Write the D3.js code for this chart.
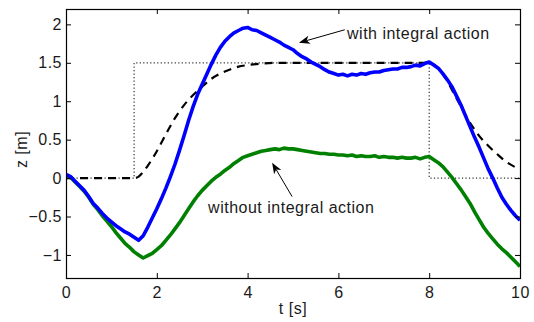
<!DOCTYPE html>
<html>
<head>
<meta charset="utf-8">
<script src="https://cdn.jsdelivr.net/npm/d3@7"></script>
<style>
  body { margin: 0; background: #fff; }
  text { font-family: "Liberation Sans", Arial, Helvetica, sans-serif; font-size: 16px; letter-spacing: 0.5px; fill: #1a1a1a; }
</style>
</head>
<body>
<div id="chart"></div>
<script>
// sample times of the measured runs (s)
var sampleTimes = d3.range(101).map(function (i) { return i / 10; });

// z [m] with integral action (blue)
var withIntegral = [
  0.05, 0.02, -0.04, -0.10, -0.16, -0.24, -0.33, -0.39, -0.46, -0.52,
  -0.57, -0.62, -0.66, -0.70, -0.73, -0.77, -0.81, -0.75, -0.64, -0.52,
  -0.40, -0.27, -0.13, 0.02, 0.18, 0.36, 0.55, 0.75, 0.93, 1.09,
  1.22, 1.35, 1.48, 1.60, 1.70, 1.78, 1.84, 1.89, 1.92, 1.95,
  1.96, 1.93, 1.92, 1.89, 1.86, 1.83, 1.80, 1.77, 1.73, 1.70,
  1.67, 1.62, 1.58, 1.55, 1.51, 1.48, 1.45, 1.41, 1.38, 1.36,
  1.34, 1.35, 1.33, 1.35, 1.34, 1.36, 1.35, 1.37, 1.38, 1.38,
  1.40, 1.41, 1.42, 1.42, 1.44, 1.44, 1.45, 1.47, 1.46, 1.49,
  1.51, 1.47, 1.43, 1.36, 1.28, 1.19, 1.07, 0.95, 0.81, 0.67,
  0.53, 0.40, 0.26, 0.12, 0.00, -0.13, -0.25, -0.34, -0.42, -0.49,
  -0.55
];

// z [m] without integral action (green)
var withoutIntegral = [
  0.04, 0.01, -0.05, -0.11, -0.17, -0.25, -0.34, -0.41, -0.49, -0.56,
  -0.63, -0.71, -0.78, -0.85, -0.90, -0.96, -1.00, -1.04, -1.01, -0.98,
  -0.93, -0.88, -0.81, -0.74, -0.66, -0.58, -0.49, -0.40, -0.31, -0.23,
  -0.16, -0.10, -0.04, 0.01, 0.05, 0.10, 0.14, 0.19, 0.23, 0.27,
  0.29, 0.31, 0.33, 0.35, 0.36, 0.37, 0.38, 0.37, 0.39, 0.38,
  0.38, 0.37, 0.36, 0.35, 0.34, 0.33, 0.32, 0.32, 0.31, 0.31,
  0.30, 0.30, 0.29, 0.30, 0.28, 0.29, 0.28, 0.28, 0.29, 0.27,
  0.28, 0.27, 0.27, 0.26, 0.27, 0.26, 0.26, 0.27, 0.25, 0.27,
  0.28, 0.24, 0.20, 0.15, 0.08, 0.01, -0.07, -0.15, -0.24, -0.33,
  -0.44, -0.54, -0.64, -0.72, -0.79, -0.86, -0.92, -0.97, -1.03, -1.09,
  -1.15
];

// step reference (dotted)
var refTimes = [0, 1.5, 1.5, 8, 8, 10];
var refValues = [0, 0, 1.5, 1.5, 0, 0];

// filtered reference (dashed)
var filtTimes = [0, 1.5, 1.6, 1.7, 1.8, 1.9, 2.0, 2.2, 2.4, 2.6, 2.8, 3.0, 3.2, 3.4, 3.6, 3.8, 4.0, 4.3, 4.6, 5.0,
                 8.0, 8.1, 8.2, 8.3, 8.4, 8.5, 8.7, 8.9, 9.1, 9.3, 9.5, 9.7, 9.9, 10];
var filtValues = [0, 0, 0.02, 0.08, 0.16, 0.25, 0.35, 0.57, 0.78, 0.95, 1.08, 1.19, 1.29, 1.36, 1.41, 1.45, 1.47, 1.49, 1.5, 1.5,
                  1.5, 1.48, 1.43, 1.35, 1.26, 1.15, 0.93, 0.72, 0.55, 0.42, 0.31, 0.21, 0.14, 0.11];

var xTicks = [0, 2, 4, 6, 8, 10];
var yTicks = [-1, -0.5, 0, 0.5, 1, 1.5, 2];

// annotations: [text, text t, text z, arrow tail t, tail z, tip t, tip z]
var notes = [
  ["with integral action", 6.19, 1.815, 6.14, 1.93, 5.13, 1.76],
  ["without integral action", 3.13, -0.455, 4.98, -0.24, 4.54, 0.20]
];

var width = 534, height = 322;
var padL = 66, padR = 520, padT = 9, padB = 278;

var svg = d3.select('#chart').append('svg')
  .attr('width', width)
  .attr('height', height);

var x = d3.scaleLinear().domain([0, 10]).range([padL, padR]);
var y = d3.scaleLinear().domain([-1.3, 2.2]).range([padB, padT]);

svg.append('clipPath').attr('id', 'plotclip')
  .append('rect')
  .attr('x', padL).attr('y', padT)
  .attr('width', padR - padL).attr('height', padB - padT);

var plot = svg.append('g').attr('clip-path', 'url(#plotclip)');

var toPoints = function (ts, vs) {
  return ts.map(function (t, i) { return [t, vs[i]]; });
};

var line = d3.line()
  .x(function (d) { return x(d[0]); })
  .y(function (d) { return y(d[1]); });

// dotted step reference
plot.append('path')
  .datum(toPoints(refTimes, refValues))
  .attr('d', line)
  .attr('fill', 'none')
  .attr('stroke', '#333')
  .attr('stroke-width', 1.2)
  .attr('stroke-dasharray', '1.2,2.3');

// dashed filtered reference
plot.append('path')
  .datum(toPoints(filtTimes, filtValues))
  .attr('d', line.curve(d3.curveMonotoneX))
  .attr('fill', 'none')
  .attr('stroke', '#000')
  .attr('stroke-width', 2.2)
  .attr('stroke-dasharray', '8,6');
line.curve(d3.curveLinear);

// measured runs
plot.append('path')
  .datum(toPoints(sampleTimes, withoutIntegral))
  .attr('d', line)
  .attr('fill', 'none')
  .attr('stroke', '#008000')
  .attr('stroke-width', 3.6)
  .attr('stroke-linejoin', 'round');

plot.append('path')
  .datum(toPoints(sampleTimes, withIntegral))
  .attr('d', line)
  .attr('fill', 'none')
  .attr('stroke', '#0000ff')
  .attr('stroke-width', 3.6)
  .attr('stroke-linejoin', 'round');

// axes, ticks inside on all four sides
var fmt = d3.format('');
svg.append('g')
  .attr('transform', 'translate(0,' + padB + ')')
  .call(d3.axisBottom(x).tickValues(xTicks).tickSize(-5).tickPadding(8.6).tickFormat(fmt));
svg.append('g')
  .attr('transform', 'translate(0,' + padT + ')')
  .call(d3.axisTop(x).tickValues(xTicks).tickSize(-5).tickFormat(''));
svg.append('g')
  .attr('transform', 'translate(' + padL + ',0)')
  .call(d3.axisLeft(y).tickValues(yTicks).tickSize(-5).tickPadding(4).tickFormat(fmt));
svg.append('g')
  .attr('transform', 'translate(' + padR + ',0)')
  .call(d3.axisRight(y).tickValues(yTicks).tickSize(-5).tickFormat(''));

svg.selectAll('.domain').remove();
svg.selectAll('.tick line').attr('stroke', '#000');
svg.selectAll('.tick text')
  .style('font-family', '"Liberation Sans", Arial, sans-serif')
  .style('font-size', '16px')
  .attr('fill', '#1a1a1a');

svg.append('rect')
  .attr('x', padL + 0.5).attr('y', padT + 0.5)
  .attr('width', padR - padL).attr('height', padB - padT)
  .attr('fill', 'none')
  .attr('stroke', '#000')
  .attr('stroke-width', 1.2);

// axis labels
svg.append('text')
  .attr('x', (padL + padR) / 2)
  .attr('y', 314)
  .attr('text-anchor', 'middle')
  .text('t [s]');

svg.append('text')
  .attr('transform', 'translate(27,' + ((padT + padB) / 2 + 6) + ') rotate(-90)')
  .attr('text-anchor', 'middle')
  .text('z [m]');

// annotations with arrows
notes.forEach(function (n) {
  svg.append('text')
    .attr('x', x(n[1]))
    .attr('y', y(n[2]))
    .text(n[0]);

  var x0 = x(n[3]), y0 = y(n[4]), x1 = x(n[5]), y1 = y(n[6]);
  var ang = Math.atan2(y1 - y0, x1 - x0);
  var len = 11, half = 4.2, back = 8;
  var bx = x1 - back * Math.cos(ang), by = y1 - back * Math.sin(ang);
  var px = -Math.sin(ang), py = Math.cos(ang);
  var ex = x1 - len * Math.cos(ang), ey = y1 - len * Math.sin(ang);

  svg.append('line')
    .attr('x1', x0).attr('y1', y0)
    .attr('x2', bx).attr('y2', by)
    .attr('stroke', '#000')
    .attr('stroke-width', 1);

  svg.append('path')
    .attr('d', 'M' + x1 + ',' + y1 +
      'L' + (ex + px * half) + ',' + (ey + py * half) +
      'L' + bx + ',' + by +
      'L' + (ex - px * half) + ',' + (ey - py * half) + 'Z')
    .attr('fill', '#000');
});
</script>
</body>
</html>
